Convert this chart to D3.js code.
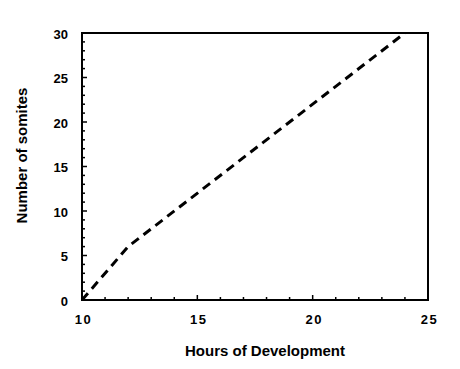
<!DOCTYPE html>
<html><head><meta charset="utf-8">
<script src="https://cdn.jsdelivr.net/npm/d3@7"></script>
<style>body{margin:0;background:#fff}svg{display:block}text{font-family:"Liberation Sans",Arial,sans-serif;font-weight:bold;fill:#000}</style>
</head><body><svg width="460" height="369"></svg>
<script>
const hours = [10, 12, 24];
const somites = [0, 6, 30];
const xTicks = [10, 15, 20, 25];
const yTicks = [0, 5, 10, 15, 20, 25, 30];
const xTitle = "Hours of Development";
const yTitle = "Number of somites";

const svg = d3.select("svg");
const L = 82, R = 428, T = 33, B = 300;
const x = d3.scaleLinear().domain([10, 25]).range([L, R]);
const y = d3.scaleLinear().domain([0, 30]).range([B, T]);

// minor ticks
const xMinor = d3.range(10, 26, 1);
const yMinor = d3.range(0, 31, 1);
svg.append("g").selectAll("line").data(xMinor).join("line")
  .attr("x1", d => x(d)).attr("x2", d => x(d))
  .attr("y1", B).attr("y2", d => B - (d % 5 === 0 ? 5 : 3))
  .attr("stroke", "#000").attr("stroke-width", 1.5);
svg.append("g").selectAll("line").data(yMinor).join("line")
  .attr("y1", d => y(d)).attr("y2", d => y(d))
  .attr("x1", L).attr("x2", d => L + (d % 5 === 0 ? 5 : 3))
  .attr("stroke", "#000").attr("stroke-width", 1.5);

// frame
svg.append("rect").attr("x", L).attr("y", T).attr("width", R - L).attr("height", B - T)
  .attr("fill", "none").attr("stroke", "#000").attr("stroke-width", 2);

// axes labels via d3 axes
const xAxis = svg.append("g").attr("transform", `translate(0,${B})`)
  .call(d3.axisBottom(x).tickValues(xTicks).tickSize(0).tickPadding(15).tickFormat(d3.format("d")));
xAxis.select(".domain").remove();
xAxis.selectAll("text").style("font-size", "13px").style("letter-spacing", "1.5px").attr("dx", "1px");
const yAxis = svg.append("g").attr("transform", `translate(${L},1)`)
  .call(d3.axisLeft(y).tickValues(yTicks).tickSize(0).tickPadding(14).tickFormat(d3.format("d")));
yAxis.select(".domain").remove();
yAxis.selectAll("text").style("font-size", "13px");

// titles
svg.append("text").attr("x", 265).attr("y", 356).attr("text-anchor", "middle")
  .style("font-size", "15px").text(xTitle);
svg.append("text").attr("transform", "translate(27,155.5) rotate(-90)").attr("text-anchor", "middle")
  .style("font-size", "15px").text(yTitle);

// line
const data = hours.map((h, i) => ({h, s: somites[i]}));
svg.append("path").datum(data)
  .attr("d", d3.line().x(d => x(d.h)).y(d => y(d.s)))
  .attr("fill", "none").attr("stroke", "#000").attr("stroke-width", 3)
  .attr("stroke-dasharray", "9,6");
</script></body></html>
